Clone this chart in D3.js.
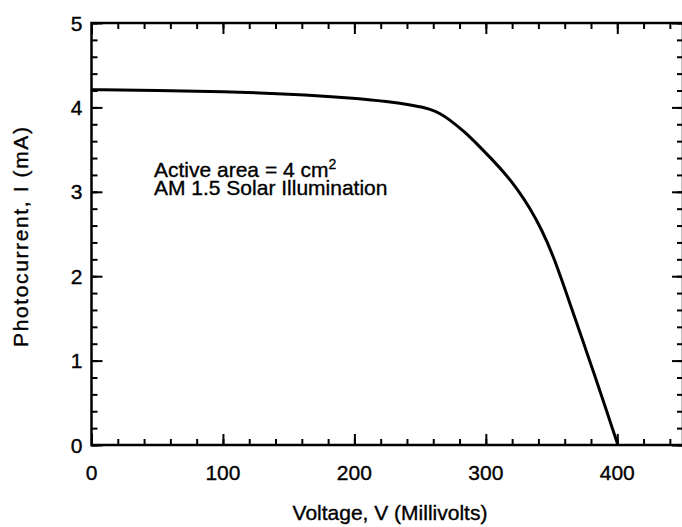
<!DOCTYPE html>
<html>
<head>
<meta charset="utf-8">
<script src="https://cdn.jsdelivr.net/npm/d3@7"></script>
<style>
  body { margin: 0; background: #fff; }
  svg { display: block; font-family: "Liberation Sans", Arial, Helvetica, sans-serif; }
  text { fill: #000; stroke: #000; stroke-width: 0.35px; }
</style>
</head>
<body>
<div id="chart"></div>
<script>
// I-V curve
var voltage = [0, 50, 100, 150, 200, 225, 245, 257, 265, 272, 284, 295, 305, 315, 324, 333, 342, 352, 365, 377, 389, 400.5];
var current = [4.21, 4.20, 4.19, 4.16, 4.11, 4.07, 4.025, 3.985, 3.93, 3.86, 3.71, 3.54, 3.38, 3.21, 3.03, 2.82, 2.57, 2.22, 1.63, 1.09, 0.54, 0.0];

var xTicks = [0, 100, 200, 300, 400];
var yTicks = [0, 1, 2, 3, 4, 5];
var xMinor = d3.range(0, 451, 20);
var yMinor = d3.range(0, 5.01, 0.2);

var W = 682, H = 527;
var margin = { top: 23, right: -1, bottom: 82, left: 91.5 };
var width = W - margin.left - margin.right,
    height = H - margin.top - margin.bottom;

var svg = d3.select("#chart")
    .append("svg")
    .attr("width", W)
    .attr("height", H);

var g = svg.append("g")
    .attr("transform", "translate(" + margin.left + "," + margin.top + ")");

var x = d3.scaleLinear().domain([0, 450]).range([0, width]);
var y = d3.scaleLinear().domain([0, 5]).range([height, 0]);

// inward ticks on all four sides, minor then major
function ticks(axis, scale, vals, size) {
    return axis(scale).tickValues(vals).tickSize(size).tickFormat("");
}
var sides = [
    { axis: d3.axisTop, scale: x, major: xTicks, minor: xMinor, t: "translate(0," + height + ")" },
    { axis: d3.axisBottom, scale: x, major: xTicks, minor: xMinor, t: null },
    { axis: d3.axisRight, scale: y, major: yTicks, minor: yMinor, t: null },
    { axis: d3.axisLeft, scale: y, major: yTicks, minor: yMinor, t: "translate(" + width + ",0)" }
];
sides.forEach(function (s) {
    g.append("g").attr("class", "tk").attr("transform", s.t).call(ticks(s.axis, s.scale, s.minor, 6));
    g.append("g").attr("class", "tk").attr("transform", s.t).call(ticks(s.axis, s.scale, s.major, 11));
});

g.selectAll(".tk .domain").remove();
g.selectAll(".tk line").attr("stroke", "#000").attr("stroke-width", 2);

// frame
g.append("rect")
    .attr("x", 0).attr("y", 0)
    .attr("width", width).attr("height", height)
    .attr("fill", "none")
    .attr("stroke", "#000")
    .attr("stroke-width", 2.5);

// tick labels
g.selectAll(".xl")
    .data(xTicks)
    .enter().append("text")
    .attr("x", function (d) { return x(d); })
    .attr("y", height + 35)
    .attr("text-anchor", "middle")
    .style("font-size", "21px")
    .text(function (d) { return d; });

g.selectAll(".yl")
    .data(yTicks)
    .enter().append("text")
    .attr("x", -9)
    .attr("y", function (d) { return y(d) + 7.5; })
    .attr("text-anchor", "end")
    .style("font-size", "21px")
    .text(function (d) { return d; });

// axis titles
svg.append("text")
    .attr("x", 390)
    .attr("y", 520)
    .attr("text-anchor", "middle")
    .style("font-size", "21px")
    .text("Voltage, V  (Millivolts)");

svg.append("text")
    .attr("transform", "translate(28,237) rotate(-90)")
    .attr("text-anchor", "middle")
    .attr("textLength", 220)
    .style("font-size", "21px")
    .text("Photocurrent, I  (mA)");

// annotation
var note = svg.append("text")
    .attr("x", 154)
    .attr("y", 177)
    .style("font-size", "21px");
note.append("tspan").text("Active area = 4 cm");
note.append("tspan").attr("dy", -8).style("font-size", "14px").text("2");
svg.append("text")
    .attr("x", 154)
    .attr("y", 195)
    .style("font-size", "21px")
    .text("AM 1.5 Solar Illumination");

// curve
var pts = voltage.map(function (v, i) { return [v, current[i]]; });
var line = d3.line()
    .x(function (d) { return x(d[0]); })
    .y(function (d) { return y(d[1]); })
    .curve(d3.curveBasis);

g.append("path")
    .datum(pts)
    .attr("d", line)
    .attr("fill", "none")
    .attr("stroke", "#000")
    .attr("stroke-width", 3);
</script>
</body>
</html>
